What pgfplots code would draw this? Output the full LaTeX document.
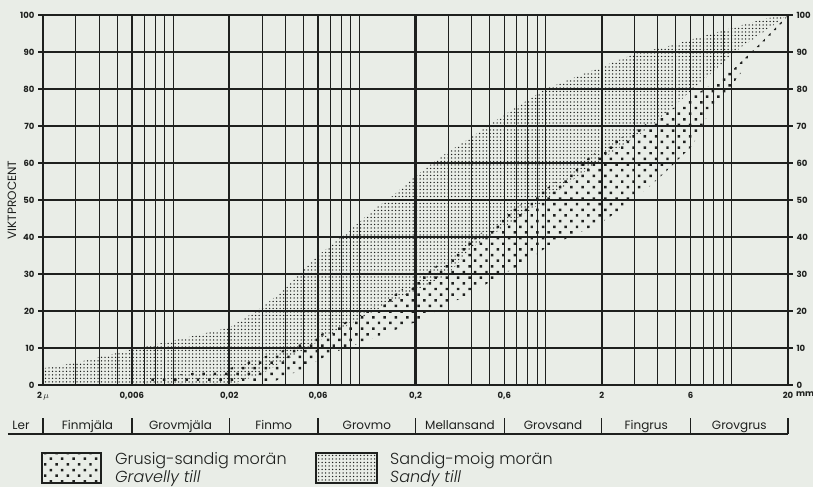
\documentclass[border=0pt]{standalone}
\usepackage{fontspec}
\usepackage{pgfplots}
\usepackage{pgfplotstable}
\pgfplotsset{compat=1.18}
\usetikzlibrary{patterns.meta}

\setmainfont{Poppins}
\IfFontExistsTF{Poppins Light}{\newfontfamily\legfam{Poppins Light}}{\newfontfamily\legfam{Poppins}}
\newcommand\tickfont{\bfseries\fontsize{8.5bp}{10bp}\selectfont}
\newcommand\catfont{\fontsize{12bp}{14bp}\selectfont}
\newcommand\legfont{\legfam\fontsize{16bp}{19bp}\selectfont}

\definecolor{paper}{RGB}{233,237,231}
\definecolor{ink}{RGB}{30,32,30}

\tikzset{
  fine/.style={pattern={Dots[distance=3.5bp, radius=0.75bp]}, pattern color=ink},
  coarse/.style={pattern={Dots[distance=8bp, radius=1.75bp, angle=45]}, pattern color=ink},
}

% sandig-moig moran (Sandy till): upper limit left to right, then lower limit back
\pgfplotstableread{
x y
0.002 4.5
0.003 6
0.004 7.5
0.006 9.6
0.01 12
0.02 15.5
0.03 21
0.04 26
0.05 31
0.06 35
0.09 42
0.12 47.5
0.15 51
0.2 56.5
0.28 62
0.4 67
0.6 73
0.8 77
1 80
2 86
3 89.5
4.5 91.5
6.7 94
10 96.5
15 99
20 100
15.4 96
11 91
6.2 80
3.6 69.5
2 61
1 50
0.4 37
0.3 30
0.11 19
0.048 9
0.03 3
0.02 0
0.002 0
}\sandy

% grusig-sandig moran (Gravelly till): upper limit, then lower limit back
\pgfplotstableread{
x y
0.006 0
0.008 2
0.02 4.5
0.03 7.5
0.048 11
0.07 15
0.11 20
0.16 25
0.24 31
0.4 39
0.6 46
1 53
2 64
3.6 71
6.2 78
10 85
14 92
20 100
17.4 96
12.6 88
10 81
7.6 74
6.2 65
4.5 58
3 50
2 44
1 37
0.7 32
0.4 25
0.2 17
0.11 12
0.07 8.5
0.048 4
0.035 1
0.02 0
}\gravelly

\begin{document}
\begin{tikzpicture}
\fill[paper] (-43bp,-102bp) rectangle (770bp,385bp);

\begin{axis}[
  scale only axis, width=745bp, height=370bp,
  xmode=log, xmin=0.002, xmax=20, ymin=0, ymax=100,
  axis on top,
  axis line style={ink, line width=2bp},
  xtick={0.002,0.006,0.02,0.06,0.2,0.6,2,6,20},
  xticklabels={{2\,$\mu$},{0,006},{0,02},{0,06},{0,2},{0,6},{2},{6},{20}},
  minor xtick={0.003,0.004,0.005,0.007,0.008,0.009,0.01,
               0.03,0.04,0.05,0.07,0.08,0.09,0.1,
               0.3,0.4,0.5,0.7,0.8,0.9,1,
               3,4,5,7,8,9,10},
  extra x ticks={0.002,0.02,0.2,2,20},
  extra x tick labels={},
  extra x tick style={major grid style={ink, line width=2.2bp}},
  xtick style={draw=none},
  xmajorgrids, xminorgrids, ymajorgrids,
  major grid style={ink, line width=1.4bp},
  minor grid style={ink, line width=0.9bp},
  ytick={0,10,...,100},
  ytick pos=both, yticklabel pos=left,
  tick align=outside, major tick length=5bp,
  ytick style={ink, line width=1.3bp},
  ticklabel style={font=\tickfont, text=ink},
  /pgf/number format/assume math mode=true,
  x tick label style={yshift=1bp},
]
\addplot[draw=none, fine] table {\sandy} -- cycle;
\addplot[draw=none, coarse] table {\gravelly} -- cycle;
\end{axis}

% labels on the right side
\begin{axis}[
  scale only axis, width=745bp, height=370bp,
  xmode=log, xmin=0.002, xmax=20, ymin=0, ymax=100,
  axis x line=none, axis y line*=right,
  y axis line style={draw=none},
  ytick={0,10,...,100}, ytick style={draw=none},
  tick align=outside, major tick length=5bp,
  ticklabel style={font=\tickfont, text=ink},
  /pgf/number format/assume math mode=true,
]
\addplot[draw=none] coordinates {(0.002,0) (20,100)};
\end{axis}

\node[font=\tickfont, text=ink, anchor=base west, inner sep=0pt] at (753bp,-11bp) {mm};
\node[rotate=90, font=\catfont, text=ink] at (-31bp,185bp) {VIKTPROCENT};

% fraction strip
\draw[ink, line width=1.3bp] (-35bp,-49bp) -- (745bp,-49bp);
\foreach \s in {0,88.9,186.25,275.1,372.5,461.4,558.75,647.6,745}
  \draw[ink, line width=1.3bp] (\s bp,-33bp) -- (\s bp,-49bp);
\begin{scope}[font=\catfont, text=ink, anchor=base, inner sep=0pt]
  \node at (-22bp,-44bp) {Ler};
  \node at (44.5bp,-44bp) {Finmjäla};
  \node at (137.5bp,-44bp) {Grovmjäla};
  \node at (230.7bp,-44bp) {Finmo};
  \node at (323.8bp,-44bp) {Grovmo};
  \node at (417bp,-44bp) {Mellansand};
  \node at (510bp,-44bp) {Grovsand};
  \node at (603.2bp,-44bp) {Fingrus};
  \node at (696.3bp,-44bp) {Grovgrus};
\end{scope}

% legend
\path[draw=ink, line width=1.3bp, coarse] (-1bp,-68bp) rectangle (58bp,-98bp);
\path[draw=ink, line width=1.3bp, fine] (273bp,-68bp) rectangle (334bp,-98bp);
\begin{scope}[font=\legfont, text=ink, anchor=west, inner sep=0pt]
  \node at (72bp,-76bp) {Grusig-sandig morän};
  \node at (72bp,-94bp) {\itshape Gravelly till};
  \node at (347bp,-76bp) {Sandig-moig morän};
  \node at (347bp,-94bp) {\itshape Sandy till};
\end{scope}

\pgfresetboundingbox
\path[use as bounding box] (-43bp,-102bp) rectangle (770bp,385bp);
\end{tikzpicture}
\end{document}
